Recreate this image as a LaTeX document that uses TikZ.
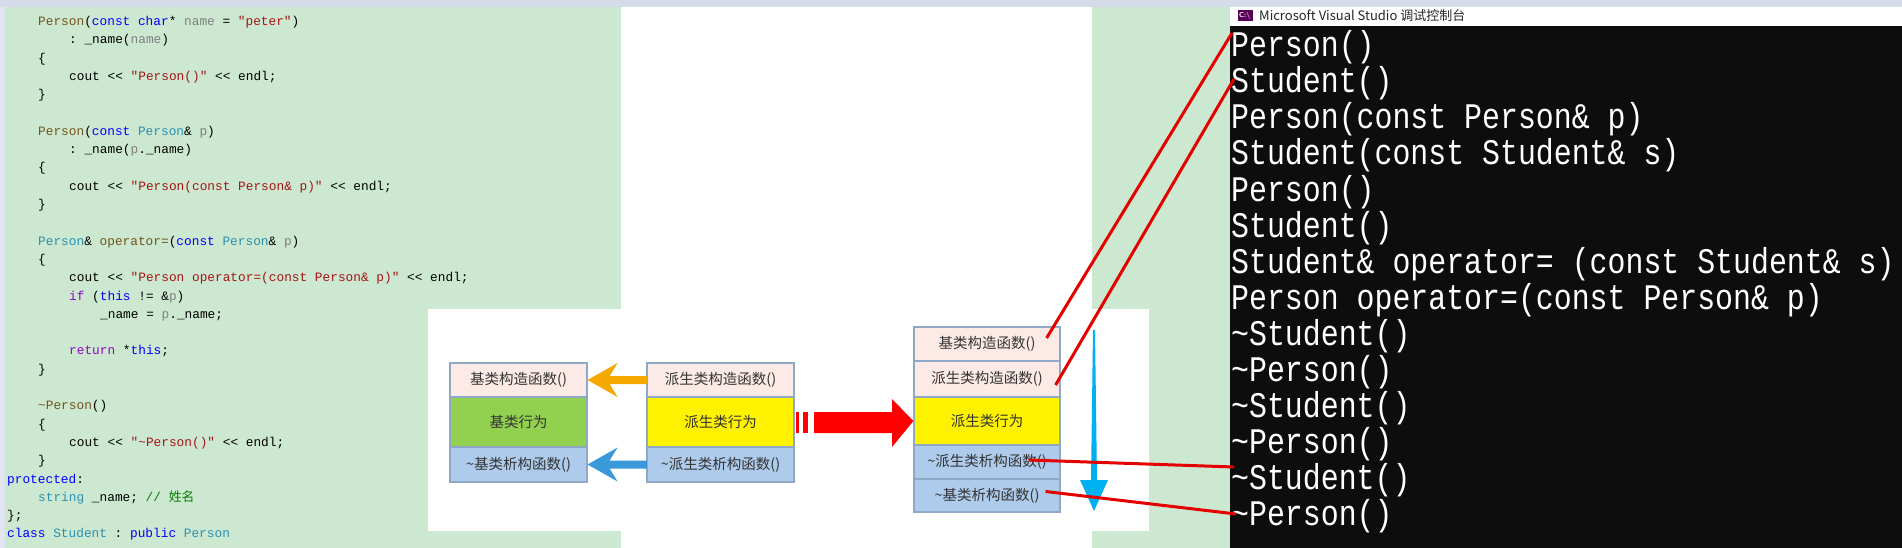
\documentclass[tikz,border=0pt]{standalone}
\usepackage{fontspec}
\setmonofont{Liberation Mono}
\newfontfamily\cjk{Noto Sans CJK SC}
\usetikzlibrary{arrows.meta,calc}
\definecolor{codebg}{HTML}{CDE8D0}
\definecolor{kwb}{HTML}{0000FF}
\definecolor{tyc}{HTML}{2B91AF}
\definecolor{fnc}{HTML}{74531F}
\definecolor{prc}{HTML}{808080}
\definecolor{stc}{HTML}{A31515}
\definecolor{puc}{HTML}{8F08C4}
\definecolor{cmc}{HTML}{008000}
\definecolor{pinkb}{HTML}{FCEAE6}
\definecolor{greenb}{HTML}{92D050}
\definecolor{blueb}{HTML}{AECBEB}
\definecolor{boxln}{HTML}{8FA8C6}
\definecolor{orgar}{HTML}{F5A800}
\definecolor{bluar}{HTML}{3A9AD9}
\definecolor{vblue}{HTML}{00B0F0}
\definecolor{topbar}{HTML}{D6DBE9}
\newcommand{\K}[1]{\textcolor{kwb}{#1}}
\newcommand{\T}[1]{\textcolor{tyc}{#1}}
\newcommand{\F}[1]{\textcolor{fnc}{#1}}
\newcommand{\G}[1]{\textcolor{prc}{#1}}
\newcommand{\St}[1]{\textcolor{stc}{#1}}
\newcommand{\U}[1]{\textcolor{puc}{#1}}
\tikzset{
  codeln/.style={anchor=base west,inner sep=0pt,font=\fontsize{12.8}{13}\ttfamily},
  conln/.style={anchor=base west,inner sep=0pt,text=white,xscale=0.83,font=\fontsize{36}{37}\ttfamily},
  cbox/.style={draw=boxln,line width=1.2pt,inner sep=0pt,font=\cjk\fontsize{14.5}{15}\selectfont,text=black!80},
  redln/.style={draw=red!90!black,line width=3pt}
}
\begin{document}
\begin{tikzpicture}[x=1pt,y=-1pt]
\useasboundingbox (0,0) rectangle (1902,548);
\begin{scope}
\clip (0,0) rectangle (1902,548);
% backgrounds
\fill[codebg] (0,0) rectangle (621,548);
\fill[white] (621,0) rectangle (1092,548);
\fill[codebg] (1092,0) rectangle (1230,548);
\fill[topbar] (0,0) rectangle (1902,7);
\fill[topbar!70] (0,7) rectangle (5,548);
\fill[white] (428,309) rectangle (1149,531);
% code
\node[codeln] (c1) at (38,{21+0*18.3+4.5}) {\F{Person}(\K{const} \K{char}* \G{name} = \St{"peter"})};
\node[codeln] (c2) at (69,{21+1*18.3+4.5}) {: \_name(\G{name})};
\node[codeln] (c3) at (38,{21+2*18.3+4.5}) {\{};
\node[codeln] (c4) at (69,{21+3*18.3+4.5}) {cout << \St{"Person()"} << endl;};
\node[codeln] (c5) at (38,{21+4*18.3+4.5}) {\}};
\node[codeln] (c7) at (38,{21+6*18.3+4.5}) {\F{Person}(\K{const} \T{Person}\& \G{p})};
\node[codeln] (c8) at (69,{21+7*18.3+4.5}) {: \_name(\G{p}.\_name)};
\node[codeln] (c9) at (38,{21+8*18.3+4.5}) {\{};
\node[codeln] (c10) at (69,{21+9*18.3+4.5}) {cout << \St{"Person(const Person\& p)"} << endl;};
\node[codeln] (c11) at (38,{21+10*18.3+4.5}) {\}};
\node[codeln] (c13) at (38,{21+12*18.3+4.5}) {\T{Person}\& \F{operator=}(\K{const} \T{Person}\& \G{p})};
\node[codeln] (c14) at (38,{21+13*18.3+4.5}) {\{};
\node[codeln] (c15) at (69,{21+14*18.3+4.5}) {cout << \St{"Person operator=(const Person\& p)"} << endl;};
\node[codeln] (c16) at (69,{21+15*18.3+4.5}) {\U{if} (\K{this} != \&\G{p})};
\node[codeln] (c17) at (100,{21+16*18.3+4.5}) {\_name = \G{p}.\_name;};
\node[codeln] (c19) at (69,{21+18*18.3+4.5}) {\U{return} *\K{this};};
\node[codeln] (c20) at (38,{21+19*18.3+4.5}) {\}};
\node[codeln] (c22) at (38,{21+21*18.3+4.5}) {\F{\textasciitilde Person}()};
\node[codeln] (c23) at (38,{21+22*18.3+4.5}) {\{};
\node[codeln] (c24) at (69,{21+23*18.3+4.5}) {cout << \St{"\textasciitilde Person()"} << endl;};
\node[codeln] (c25) at (38,{21+24*18.3+4.5}) {\}};
\node[codeln] (c26) at (7,{21+25*18.3+4.5}) {\K{protected}:};
\node[codeln] (c27) at (38,{21+26*18.3+4.5}) {\T{string} \_name; \textcolor{cmc}{// {\cjk 姓名}}};
\node[codeln] (c28) at (7,{21+27*18.3+4.5}) {\};};
\node[codeln] (c29) at (7,{21+28*18.3+4.5}) {\K{class} \T{Student} : \K{public} \T{Person}};
% left column
\node[cbox,fill=pinkb,minimum width=137,minimum height=34] (l1) at (518.5,380) {基类构造函数()};
\node[cbox,fill=greenb,minimum width=137,minimum height=50] (l2) at (518.5,422) {基类行为};
\node[cbox,fill=blueb,minimum width=137,minimum height=35] (l3) at (518.5,464.5) {\textasciitilde 基类析构函数()};
% middle column
\node[cbox,fill=pinkb,minimum width=147,minimum height=34] (m1) at (720.5,380) {派生类构造函数()};
\node[cbox,fill=yellow,minimum width=147,minimum height=50] (m2) at (720.5,422) {派生类行为};
\node[cbox,fill=blueb,minimum width=147,minimum height=35] (m3) at (720.5,464.5) {\textasciitilde 派生类析构函数()};
% right column
\node[cbox,fill=pinkb,minimum width=146,minimum height=34] (r1) at (987,344) {基类构造函数()};
\node[cbox,fill=pinkb,minimum width=146,minimum height=36] (r2) at (987,379) {派生类构造函数()};
\node[cbox,fill=yellow,minimum width=146,minimum height=48] (r3) at (987,421) {派生类行为};
\node[cbox,fill=blueb,minimum width=146,minimum height=34] (r4) at (987,462) {\textasciitilde 派生类析构函数()};
\node[cbox,fill=blueb,minimum width=146,minimum height=33] (r5) at (987,495.5) {\textasciitilde 基类析构函数()};
% orange and blue arrows
\fill[orgar] (l1.east) -- ++(30,-17) -- ++(-8,13) -- (647,376) -- (647,384) -- ($(l1.east)+(22,4)$) -- ++(8,13) -- cycle;
\fill[bluar] (l3.east) -- ++(30,-17) -- ++(-8,13) -- (647,460.5) -- (647,468.5) -- ($(l3.east)+(22,4)$) -- ++(8,13) -- cycle;
% red big arrow
\fill[red] (796,412) rectangle (799,433);
\fill[red] (803,412) rectangle (808,433);
\fill[red] (814,412) -- (892,412) -- (892,399) -- (r3.west) -- (892,447) -- (892,433) -- (814,433) -- cycle;
% vertical blue arrow
\coordinate (vt) at (1094,330);
\coordinate (vb) at (1094,511);
\fill[vblue] ($(vt)+(-1,0)$) -- ($(vt)+(1,0)$) -- (1097,480) -- (1108,480) -- (vb) -- (1080,480) -- (1091,480) -- cycle;
% console
\fill[white] (1230,7) rectangle (1902,26);
\fill[black!95] (1230,26) rectangle (1902,548);
\fill[violet!70!black] (1238,10) rectangle (1253,21);
\node[anchor=west,inner sep=0pt,font=\fontsize{7}{7}\sffamily\bfseries,text=white] (ico) at (1239,15.5) {C:\textbackslash};
\node[anchor=west,inner sep=0pt,font=\cjk\fontsize{13}{13}\selectfont,text=black!85] (title) at (1259,15.5) {Microsoft Visual Studio 调试控制台};
\foreach \t [count=\i from 0] in {Person(),Student(),Person(const Person\& p),Student(const Student\& s),Person(),Student(),Student\& operator= (const Student\& s),Person operator=(const Person\& p),\textasciitilde Student(),\textasciitilde Person(),\textasciitilde Student(),\textasciitilde Person(),\textasciitilde Student(),\textasciitilde Person()}
  \node[conln] (k\i) at (1231,{45+\i*36+12}) {\t};
% red connector lines
\coordinate (e0) at (1232,33);
\coordinate (e1) at (1234,79);
\coordinate (e12) at (1234,467);
\coordinate (e13) at (1236,514);
\draw[redln] ($(r1.east)+(-14,-6)$) -- (e0);
\draw[redln] ($(r2.east)+(-5,6)$) -- (e1);
\draw[redln] ($(r4.east)+(-32,-2)$) -- (e12);
\draw[redln] ($(r5.east)+(-15,-4)$) -- (e13);
\end{scope}
\end{tikzpicture}
\end{document}
